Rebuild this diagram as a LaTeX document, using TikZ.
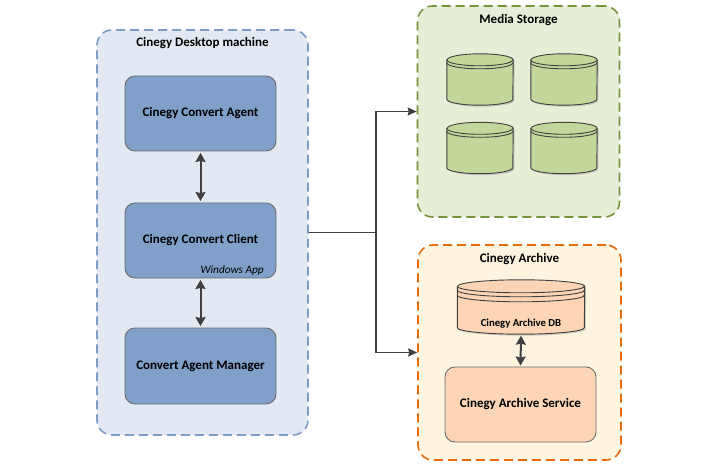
\documentclass[tikz,border=0pt]{standalone}
\usepackage{fontspec}
\setmainfont{Carlito}
\usetikzlibrary{arrows.meta}
\definecolor{deskfill}{HTML}{E3E9F2}
\definecolor{deskline}{HTML}{7F9CC7}
\definecolor{boxfill}{HTML}{809FC9}
\definecolor{boxline}{HTML}{6E6E6E}
\definecolor{medfill}{HTML}{E6EED8}
\definecolor{medline}{HTML}{77933C}
\definecolor{cylfill}{HTML}{C4D79B}
\definecolor{arcfill}{HTML}{FEF5E0}
\definecolor{arcline}{HTML}{E46C0A}
\definecolor{peach}{HTML}{FBD5B5}
\definecolor{arrowc}{HTML}{404040}
\tikzset{
  container/.style={rectangle, rounded corners=15pt, line width=1.6pt, dash pattern=on 9pt off 5pt, inner sep=0pt},
  appbox/.style={rectangle, rounded corners=10pt, draw=boxline, line width=0.9pt, inner sep=0pt, font=\bfseries\fontsize{13}{15}\selectfont, align=center},
  title/.style={font=\bfseries\fontsize{13}{15}\selectfont, inner sep=0pt},
  dblarrow/.style={{Stealth[length=9pt,width=10pt,inset=1pt]}-{Stealth[length=9pt,width=10pt,inset=1pt]}, line width=2pt, draw=arrowc},
  conn/.style={line width=1.6pt, draw=arrowc},
  connarrow/.style={conn, -{Stealth[length=9pt,width=8pt,inset=1pt]}},
  cylarea/.style={rectangle, draw=none, inner sep=0pt},
  cylline/.style={draw=black!75, line width=0.9pt}
}
% name, rx, ry, extra-line offsets, fill
\newcommand\drawcyl[5]{%
  \begin{scope}[transform canvas={shift={(1.5pt,-1.5pt)}}]
    \fill[black!40, opacity=.45] ([yshift=-#3]#1.north west) -- ([yshift=#3]#1.south west)
      arc[start angle=180,end angle=360,x radius=#2,y radius=#3]
      -- ([yshift=-#3]#1.north east)
      arc[start angle=0,end angle=180,x radius=#2,y radius=#3] -- cycle;
  \end{scope}
  \filldraw[fill=#5, cylline] ([yshift=-#3]#1.north west) -- ([yshift=#3]#1.south west)
      arc[start angle=180,end angle=360,x radius=#2,y radius=#3]
      -- ([yshift=-#3]#1.north east)
      arc[start angle=0,end angle=180,x radius=#2,y radius=#3] -- cycle;
  \draw[cylline] ([yshift=-#3]#1.north west) arc[start angle=180,end angle=360,x radius=#2,y radius=#3];
  \foreach \d in {#4}{%
    \draw[cylline] ([yshift={-#3-\d}]#1.north west) arc[start angle=180,end angle=360,x radius=#2,y radius=#3];
  }%
}
\begin{document}
\begin{tikzpicture}[x=1pt,y=-1pt]
\useasboundingbox (0,0) rectangle (707,465);

% Desktop machine container
\node[container, draw=deskline, fill=deskfill, minimum width=211pt, minimum height=405pt] (desk) at (202.5,232.5) {};
\node[title] (desktitle) at (202.5,43) {Cinegy Desktop machine};

\node[appbox, fill=boxfill, minimum width=151pt, minimum height=75pt] (agent) at (200.5,113.5) {Cinegy Convert Agent};
\node[appbox, fill=boxfill, minimum width=151pt, minimum height=75pt] (client) at (200.5,240.5) {Cinegy Convert Client};
\node[font=\itshape\fontsize{11.3}{13}\selectfont, inner sep=0pt, anchor=east] (winapp) at (264,270) {Windows App};
\node[appbox, fill=boxfill, minimum width=151pt, minimum height=76pt] (manager) at (200.5,366) {Convert Agent Manager};

\draw[dblarrow] ([yshift=-1.5pt]agent.south) -- ([yshift=1.5pt]client.north);
\draw[dblarrow] ([yshift=-1.5pt]client.south) -- ([yshift=1.5pt]manager.north);

% Media storage container
\node[container, draw=medline, fill=medfill, minimum width=202pt, minimum height=211pt] (media) at (518.5,111.5) {};
\node[title] (medtitle) at (518.5,20) {Media Storage};

\node[cylarea, minimum width=66pt, minimum height=51pt] (c1) at (480,79.5) {};
\node[cylarea, minimum width=66pt, minimum height=51pt] (c2) at (564,79.5) {};
\node[cylarea, minimum width=66pt, minimum height=51pt] (c3) at (480,148) {};
\node[cylarea, minimum width=66pt, minimum height=51pt] (c4) at (564,148) {};
\drawcyl{c1}{33pt}{6pt}{3pt}{cylfill}
\drawcyl{c2}{33pt}{6pt}{3pt}{cylfill}
\drawcyl{c3}{33pt}{6pt}{3pt}{cylfill}
\drawcyl{c4}{33pt}{6pt}{3pt}{cylfill}

% Cinegy Archive container
\node[container, draw=arcline, fill=arcfill, minimum width=203pt, minimum height=215pt] (arch) at (519.5,352.5) {};
\node[title] (arctitle) at (519.5,259) {Cinegy Archive};

\node[cylarea, minimum width=127pt, minimum height=54pt] (db) at (521,307) {};
\drawcyl{db}{63.5pt}{6.5pt}{4pt,9pt}{peach}
\node[font=\bfseries\fontsize{10.7}{12}\selectfont, inner sep=0pt] (dbtext) at (521,324) {Cinegy Archive DB};

\node[appbox, fill=peach, minimum width=151pt, minimum height=75pt] (service) at (520.5,404.5) {Cinegy Archive Service};

\draw[dblarrow] ([yshift=-1.5pt]db.south) -- ([yshift=1pt]service.north);

% Connectors
\coordinate (junc) at ([xshift=67pt]desk.east);
\draw[conn] (desk.east) -- (junc);
\draw[connarrow] (junc) |- (media.west);
\draw[connarrow] (junc) |- (arch.west);
\end{tikzpicture}
\end{document}
